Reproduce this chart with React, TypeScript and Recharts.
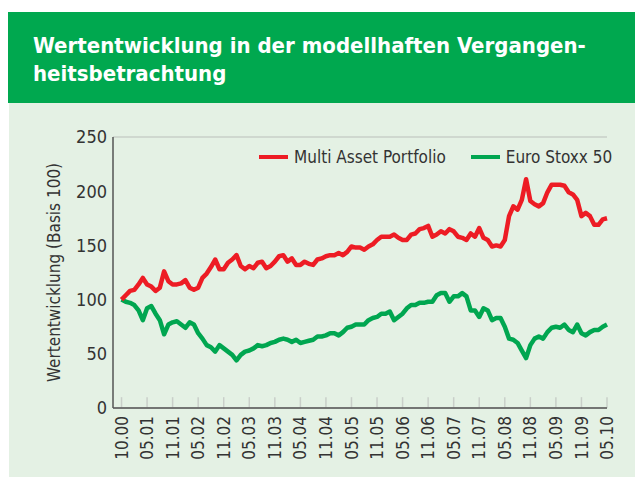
import { LineChart, Line, XAxis, YAxis, CartesianGrid, ReferenceLine, Label } from 'recharts'

// Zeitachse: ein Tickeintrag alle 6 Datenpunkte
const TICK_LABELS = [
  '10.00', '05.01', '11.01', '05.02', '11.02', '05.03', '11.03', '05.04', '11.04', '05.05',
  '11.05', '05.06', '11.06', '05.07', '11.07', '05.08', '11.08', '05.09', '11.09', '05.10',
]
const STEPS_PER_TICK = 6

const MULTI_ASSET = [
  100, 104, 108, 109, 114, 120, 114, 112, 108, 111, 126, 117, 114, 114, 115, 118, 111, 109, 111, 120, 124, 130,
  137, 128, 128, 134, 137, 141, 131, 128, 131, 129, 134, 135, 129, 131, 135, 140, 141, 135, 138, 132, 132, 135, 133,
  132, 137, 138, 140, 141, 141, 143, 141, 144, 149, 148, 148, 146, 149, 151, 155, 158, 158, 158, 160, 157, 155,
  155, 160, 161, 165, 166, 168, 158, 160, 163, 161, 165, 163, 158, 157, 155, 161, 158, 166, 157, 155, 149, 150,
  149, 155, 177, 186, 183, 192, 211, 191, 188, 186, 189, 199, 206, 206, 206, 205, 199, 197, 192, 177, 180, 177, 169, 169, 174, 175,
]

const EURO_STOXX = [
  100, 98, 97, 95, 90, 81, 92, 94, 87, 81, 68, 77, 79, 80, 77, 74, 79, 77, 69, 64, 58, 56,
  52, 58, 55, 52, 49, 44, 49, 52, 53, 55, 58, 57, 58, 60, 61, 63, 64, 63, 61, 63, 60, 61, 62,
  63, 66, 66, 67, 69, 69, 67, 70, 74, 75, 77, 77, 77, 81, 83, 84, 87, 87, 89, 81, 84, 87,
  92, 95, 95, 97, 97, 98, 98, 104, 106, 106, 98, 103, 103, 106, 103, 90, 90, 84, 92, 90, 81, 83,
  83, 75, 64, 63, 60, 53, 46, 58, 64, 66, 64, 70, 74, 75, 74, 77, 72, 70, 77, 69, 67, 70, 72, 72, 75, 77,
]

const Y_TICKS = [0, 50, 100, 150, 200, 250]
const GRID_VALUES = [50, 100, 150, 200]

const SERIES = [
  { key: 'multi', name: 'Multi Asset Portfolio', color: '#ed1c24' },
  { key: 'stoxx', name: 'Euro Stoxx 50', color: '#00a650' },
]

const data = MULTI_ASSET.map((v, i) => ({ i, multi: v, stoxx: EURO_STOXX[i] }))
const xTicks = TICK_LABELS.map((_, k) => k * STEPS_PER_TICK)
const lastIndex = MULTI_ASSET.length - 1

const FONT = '"DejaVu Sans Condensed", "DejaVu Sans", sans-serif'
const TEXT = '#333'
const textStyle = { fontStretch: 'semi-condensed' as const }

function XTick({ x, y, payload }: any) {
  return (
    <text x={x} y={y} transform={`rotate(-90, ${x}, ${y})`} textAnchor="end" dy="0.36em"
      fontSize={17} fill={TEXT} fontFamily={FONT} style={textStyle}>
      {TICK_LABELS[Math.round(payload.value / STEPS_PER_TICK)]}
    </text>
  )
}

export default function App() {
  return (
    <div style={{ position: 'relative', width: 635, height: 477, overflow: 'hidden', background: '#fff' }}>
      <style>{'body{margin:0;overflow:hidden}'}</style>

      {/* Kopfzeile */}
      <div style={{
        position: 'absolute', left: 8, top: 12, width: 627, height: 91, background: '#00a84f',
        color: '#fff', fontFamily: FONT, fontStretch: 'semi-condensed', fontWeight: 700, fontSize: 22,
        lineHeight: '28px', whiteSpace: 'nowrap', boxSizing: 'border-box', padding: '20px 0 0 25px',
      }}>
        Wertentwicklung in der modellhaften Vergangen-<br />heitsbetrachtung
      </div>
      <div style={{ position: 'absolute', left: 9, top: 103, width: 626, height: 374, background: '#e4f1e4' }} />

      {/* Legende */}
      <div style={{
        position: 'absolute', left: 259, top: 145, display: 'flex', alignItems: 'center', whiteSpace: 'nowrap',
        fontFamily: FONT, fontStretch: 'semi-condensed', fontSize: 17, color: TEXT, lineHeight: '24px',
      }}>
        {SERIES.map((s, k) => (
          <div key={s.key} style={{ display: 'flex', alignItems: 'center', marginLeft: k ? 25 : 0 }}>
            <span style={{ width: 29, height: 4, background: s.color, marginRight: 6 }} />
            {s.name}
          </div>
        ))}
      </div>

      <div style={{ position: 'absolute', left: 0, top: 0 }}>
        <LineChart width={635} height={477} data={data} margin={{ top: 137, right: 28, bottom: 9, left: 53 }}>
          <CartesianGrid yAxisId="grid" vertical={false} stroke="#c9cfc9" strokeWidth={1.5} />
          <XAxis dataKey="i" type="number" domain={[-2, lastIndex]} ticks={xTicks} interval={0}
            height={60} tickLine={false} axisLine={{ stroke: '#555', strokeWidth: 1.5 }} tick={<XTick />} />
          <YAxis domain={[0, 250]} ticks={Y_TICKS} width={60} tickLine={false} tickSize={4} tickMargin={2}
            axisLine={{ stroke: '#555', strokeWidth: 1.5 }}
            tick={{ fontSize: 18, fill: TEXT, fontFamily: FONT, style: textStyle }}>
            <Label content={({ viewBox }: any) => {
              const cx = viewBox.x + 1
              const cy = viewBox.y + viewBox.height / 2
              return (
                <text x={cx} y={cy} transform={`rotate(-90, ${cx}, ${cy})`} textAnchor="middle" dy="0.36em"
                  fontSize={17} fill={TEXT} fontFamily={FONT} style={textStyle}>
                  Wertentwicklung (Basis 100)
                </text>
              )
            }} />
          </YAxis>
          <YAxis yAxisId="grid" hide domain={[0, 250]} ticks={GRID_VALUES} />
          {xTicks.map(t => (
            <ReferenceLine key={t} segment={[{ x: t, y: 0 }, { x: t, y: 10 }]} stroke="#c9cfc9" strokeWidth={1.5} />
          ))}
          <Line dataKey="stoxx" name="Euro Stoxx 50" stroke={SERIES[1].color} strokeWidth={4.5} dot={false}
            strokeLinejoin="round" isAnimationActive={false} />
          <Line dataKey="multi" name="Multi Asset Portfolio" stroke={SERIES[0].color} strokeWidth={4.5} dot={false}
            strokeLinejoin="round" isAnimationActive={false} />
        </LineChart>
      </div>
    </div>
  )
}
